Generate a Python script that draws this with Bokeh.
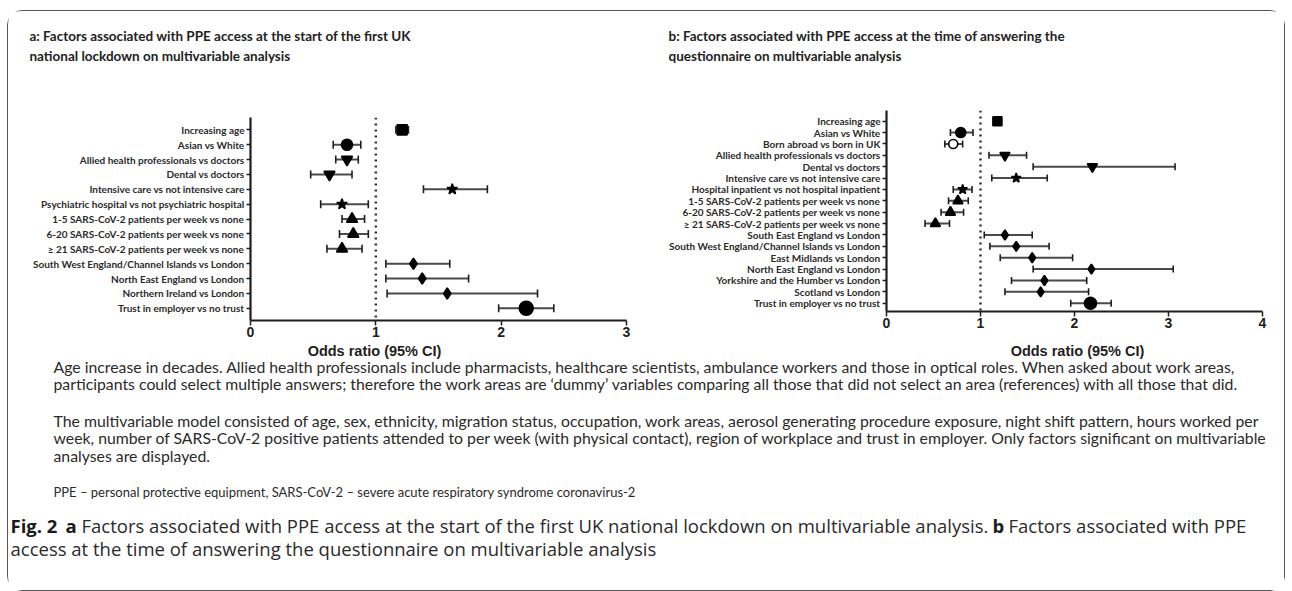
from bokeh.plotting import figure
from bokeh.models import Range1d, FixedTicker, Span, Whisker, TeeHead, ColumnDataSource
from bokeh.layouts import column, row
from bokeh.embed import file_html
from bokeh.resources import INLINE
from bokeh.core.properties import value

# ---------------- data: panel a ----------------
a_labels = [
    "Increasing age",
    "Asian vs White",
    "Allied health professionals vs doctors",
    "Dental vs doctors",
    "Intensive care vs not intensive care",
    "Psychiatric hospital vs not psychiatric hospital",
    "1-5 SARS-CoV-2 patients per week vs none",
    "6-20 SARS-CoV-2 patients per week vs none",
    "\u2265 21 SARS-CoV-2 patients per week vs none",
    "South West England/Channel Islands vs London",
    "North East England vs London",
    "Northern Ireland vs London",
    "Trust in employer vs no trust",
]
a_or = [1.21, 0.77, 0.77, 0.63, 1.61, 0.73, 0.81, 0.82, 0.73, 1.30, 1.37, 1.57, 2.20]
a_lo = [1.16, 0.66, 0.68, 0.48, 1.38, 0.56, 0.73, 0.71, 0.61, 1.08, 1.08, 1.09, 1.98]
a_hi = [1.26, 0.88, 0.86, 0.81, 1.89, 0.94, 0.91, 0.94, 0.89, 1.59, 1.74, 2.29, 2.42]

# ---------------- data: panel b ----------------
b_labels = [
    "Increasing age",
    "Asian vs White",
    "Born abroad vs born in UK",
    "Allied health professionals vs doctors",
    "Dental vs doctors",
    "Intensive care vs not intensive care",
    "Hospital inpatient vs not hospital inpatient",
    "1-5 SARS-CoV-2 patients per week vs none",
    "6-20 SARS-CoV-2 patients per week vs none",
    "\u2265 21 SARS-CoV-2 patients per week vs none",
    "South East England vs London",
    "South West England/Channel Islands vs London",
    "East Midlands vs London",
    "North East England vs London",
    "Yorkshire and the Humber vs London",
    "Scotland vs London",
    "Trust in employer vs no trust",
]
b_or = [1.18, 0.79, 0.71, 1.26, 2.19, 1.38, 0.81, 0.76, 0.68, 0.52, 1.26, 1.38, 1.55, 2.18, 1.68, 1.64, 2.17]
b_lo = [1.14, 0.68, 0.62, 1.09, 1.56, 1.12, 0.71, 0.66, 0.58, 0.41, 1.04, 1.10, 1.21, 1.56, 1.33, 1.26, 1.96]
b_hi = [1.22, 0.92, 0.81, 1.49, 3.07, 1.71, 0.91, 0.87, 0.82, 0.67, 1.55, 1.73, 1.98, 3.05, 2.13, 2.15, 2.39]

x_ticks_a = [0, 1, 2, 3]
x_ticks_b = [0, 1, 2, 3, 4]

# ---------------- styles ----------------
a_markers = ["square", "circle", "inverted_triangle", "inverted_triangle", "star", "star",
             "triangle", "triangle", "triangle", "diamond", "diamond", "diamond", "circle"]
a_sizes = [10, 11, 11, 11, 11, 11, 11, 11, 11, 11, 11, 11, 14]
a_fills = ["black"] * 13

b_markers = ["square", "circle", "circle", "inverted_triangle", "inverted_triangle", "star", "star",
             "triangle", "triangle", "triangle", "diamond", "diamond", "diamond", "diamond",
             "diamond", "diamond", "circle"]
b_sizes = [9, 10, 9, 10, 10, 10, 10, 10, 10, 10, 10, 10, 10, 10, 10, 10, 12]
b_fills = ["black", "black", "white"] + ["black"] * 14

INK = "#1e1e1e"
LABEL_FONT = "Lato"


def forest(labels, orr, lo, hi, markers, sizes, fills, xticks, width, height,
           b_left, b_right, b_top, b_bottom, pad_top, pad_bottom, cap):
    n = len(labels)
    ys = list(range(n))
    src = ColumnDataSource(dict(y=ys, orr=orr, lo=lo, hi=hi, mk=markers, sz=sizes, fc=fills))
    p = figure(width=width, height=height,
               x_range=Range1d(xticks[0], xticks[-1]),
               y_range=Range1d(n - 1 + pad_bottom, -pad_top),
               output_backend="svg", toolbar_location=None,
               min_border_left=b_left, min_border_right=b_right,
               min_border_top=b_top, min_border_bottom=b_bottom)
    p.frame_align = False
    p.outline_line_color = None
    p.grid.visible = False
    p.background_fill_color = "white"
    p.border_fill_color = "white"

    p.add_layout(Span(location=1, dimension="height", line_dash="dotted",
                      line_width=2.5, line_color="#333333", level="underlay"))

    w = Whisker(source=src, base="y", lower="lo", upper="hi", dimension="width",
                line_color="#4a4a4a", line_width=2, level="underlay",
                lower_head=TeeHead(size=cap, line_color=INK, line_width=1.6),
                upper_head=TeeHead(size=cap, line_color=INK, line_width=1.6))
    p.add_layout(w)

    p.scatter(x="orr", y="y", marker="mk", size="sz", fill_color="fc",
              line_color="black", line_width=1.6, source=src)

    ya = p.yaxis[0]
    ya.ticker = FixedTicker(ticks=ys)
    ya.major_label_overrides = {i: lab for i, lab in enumerate(labels)}
    ya.major_label_text_font = LABEL_FONT
    ya.major_label_text_font_style = "bold"
    ya.major_label_text_font_size = "10px"
    ya.major_label_text_color = "#2a2a2a"
    ya.major_label_standoff = 2
    ya.major_tick_in = 0
    ya.major_tick_out = 4
    ya.major_tick_line_width = 1.5
    ya.major_tick_line_color = INK
    ya.minor_tick_line_color = None
    ya.minor_tick_out = 0
    ya.axis_label_standoff = 0
    ya.axis_line_width = 2.2
    ya.axis_line_color = INK

    xa = p.xaxis[0]
    xa.ticker = FixedTicker(ticks=xticks)
    xa.major_label_text_font = "Liberation Sans"
    xa.major_label_text_font_style = "bold"
    xa.major_label_text_font_size = "14px"
    xa.major_label_text_color = INK
    xa.major_label_standoff = 1
    xa.major_tick_in = 0
    xa.major_tick_out = 5
    xa.major_tick_line_width = 1.5
    xa.major_tick_line_color = INK
    xa.minor_tick_line_color = None
    xa.minor_tick_out = 0
    xa.axis_label_standoff = 0
    xa.axis_line_width = 2.2
    xa.axis_line_color = INK
    return p


# layout origin is page (8, 11); top strip 69px, forest row 262px, notes 248px
ROW_H = 262
pa = forest(a_labels, a_or, a_lo, a_hi, a_markers, a_sizes, a_fills, x_ticks_a,
            width=632, height=ROW_H, b_left=242, b_right=14, b_top=37, b_bottom=22,
            pad_top=0.83, pad_bottom=0.82, cap=8)
pb = forest(b_labels, b_or, b_lo, b_hi, b_markers, b_sizes, b_fills, x_ticks_b,
            width=644, height=ROW_H, b_left=246, b_right=22, b_top=30, b_bottom=31,
            pad_top=0.94, pad_bottom=0.73, cap=7)


def text_canvas(w, h):
    p = figure(width=w, height=h, x_range=Range1d(0, w), y_range=Range1d(h, 0),
               output_backend="svg", toolbar_location=None, min_border=0)
    p.axis.visible = False
    p.grid.visible = False
    p.outline_line_color = None
    p.background_fill_color = "white"
    p.border_fill_color = "white"
    return p


# ---------------- panel titles ----------------
title_lines = [
    "a: Factors associated with PPE access at the start of the first UK",
    "national lockdown on multivariable analysis",
    "b: Factors associated with PPE access at the time of answering the",
    "questionnaire on multivariable analysis",
]
top = text_canvas(1276, 69)
top.text(x=[21, 21, 660, 660], y=[24, 44, 24, 44], text=title_lines,
         text_font=value(LABEL_FONT), text_font_style="bold", text_font_size=value("13.5px"),
         text_color="#222222", text_align="left", text_baseline="middle")

# ---------------- notes and caption ----------------
axis_titles = ["Odds ratio (95% CI)", "Odds ratio (95% CI)"]
notes = [
    "Age increase in decades. Allied health professionals include pharmacists, healthcare scientists, ambulance workers and those in optical roles. When asked about work areas,",
    "participants could select multiple answers; therefore the work areas are \u2018dummy\u2019 variables comparing all those that did not select an area (references) with all those that did.",
    "The multivariable model consisted of age, sex, ethnicity, migration status, occupation, work areas, aerosol generating procedure exposure, night shift pattern, hours worked per",
    "week, number of SARS-CoV-2 positive patients attended to per week (with physical contact), region of workplace and trust in employer. Only factors significant on multivariable",
    "analyses are displayed.",
]
abbrev = "PPE \u2013 personal protective equipment, SARS-CoV-2 \u2013 severe acute respiratory syndrome coronavirus-2"
cap_bold = ["Fig. 2", "a", "b"]
cap_reg = [
    "Factors associated with PPE access at the start of the first UK national lockdown on multivariable analysis.",
    "Factors associated with PPE",
    "access at the time of answering the questionnaire on multivariable analysis",
]

BOT_H = 248
bot = text_canvas(1276, BOT_H)
bot.text(x=[366, 1069], y=[0, 0], text=axis_titles,
         text_font=value("Liberation Sans"), text_font_style="bold", text_font_size=value("14.5px"),
         text_color=INK, text_align="center", text_baseline="top")
bot.text(x=[45] * 5, y=[24, 41, 78, 95, 113], text=notes,
         text_font=value(LABEL_FONT), text_font_size=value("15.8px"),
         text_color="#2a2a2a", text_align="left", text_baseline="middle")
bot.text(x=[45], y=[149], text=[abbrev],
         text_font=value(LABEL_FONT), text_font_size=value("13px"),
         text_color="#2a2a2a", text_align="left", text_baseline="middle")
bot.text(x=[2, 57, 984], y=[183, 183, 183], text=cap_bold,
         text_font=value("Open Sans"), text_font_style="bold", text_font_size=value("18.5px"),
         text_color="#1a1a1a", text_align="left", text_baseline="middle")
bot.text(x=[73, 1000, 2], y=[183, 183, 206], text=cap_reg,
         text_font=value("Open Sans"), text_font_size=value("18.5px"),
         text_color="#2a2a2a", text_align="left", text_baseline="middle")

layout = column(top, row(pa, pb), bot, width=1276, height=69 + ROW_H + BOT_H,
                styles={"margin-left": "8px", "margin-top": "11px",
                        "outline": "1.5px solid #555555", "border-radius": "14px"})

with open("out.html", "w") as f:
    f.write(file_html(layout, INLINE))
